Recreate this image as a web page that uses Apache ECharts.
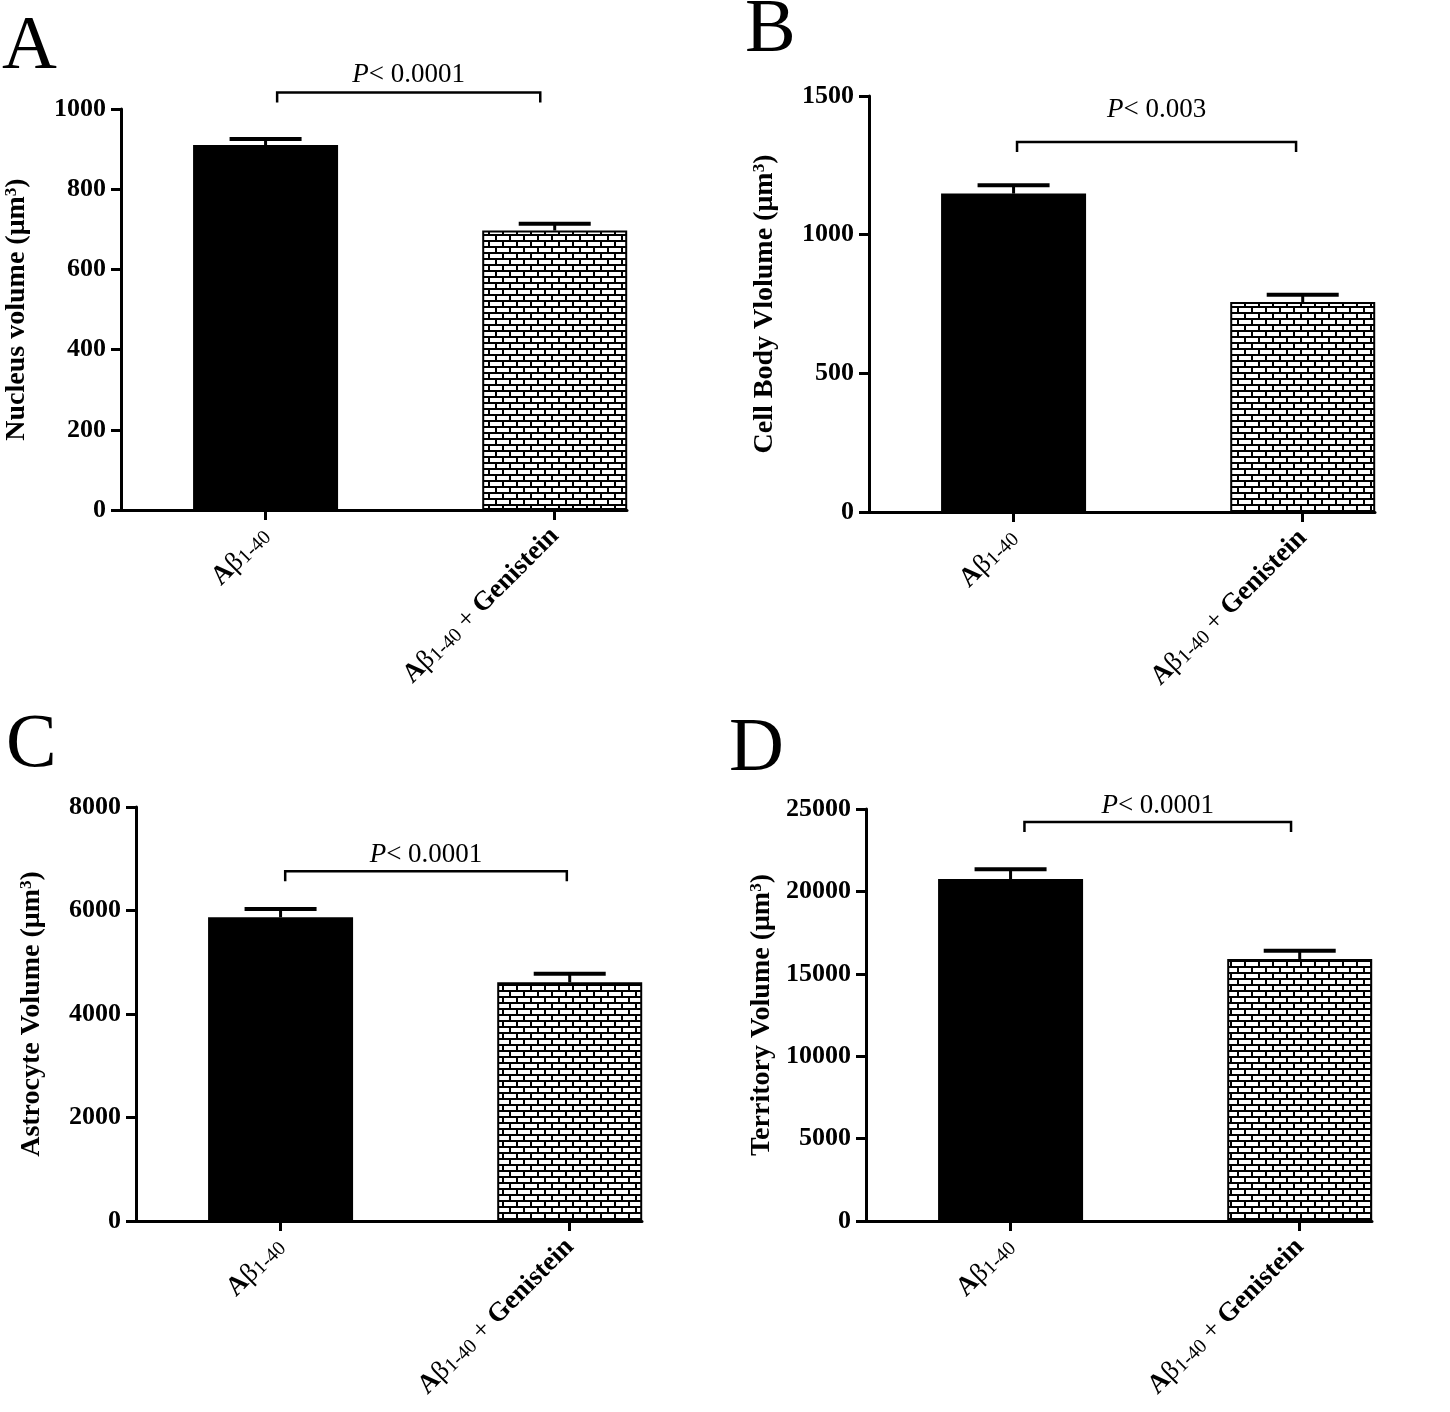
<!DOCTYPE html>
<html>
<head>
<meta charset="utf-8">
<script src="https://cdn.jsdelivr.net/npm/echarts@6/dist/echarts.min.js"></script>
<style>
  html, body { margin: 0; padding: 0; background: #fff; }
  #chart { width: 1450px; height: 1412px; }
</style>
</head>
<body>
<div id="chart"></div>
<script>
// groups on the x axis (bar positions 0 and 1)
const groupPos = [0, 1]
const groupLabels = ['{b|A}{n|β}{s|1-40}', '{b|A}{n|β}{s|1-40}{n| + }{b|Genistein}']

// means and SEM
const nucleusMean = [910, 697]
const nucleusSem = [15, 17]
const cellBodyMean = [1148, 757]
const cellBodySem = [30, 26]
const astrocyteMean = [5869, 4612]
const astrocyteSem = [160, 167]
const territoryMean = [20750, 15900]
const territorySem = [590, 500]

// y axis ranges
const yMax = [1000, 1500, 8000, 25000]
const yStep = [200, 500, 2000, 5000]

// significance brackets: x from/to (group units), bracket top value, text value
const pTexts = ['< 0.0001', '< 0.003', '< 0.0001', '< 0.0001']
const bracketFrom = [0.04, 0.012, 0.016, 0.048]
const bracketTo = [0.95, 0.977, 0.99, 0.97]
const bracketTop = [1041, 1334, 6757, 24211]
const bracketText = [1085, 1450, 7072, 25182]

const yTitles = [
  'Nucleus volume (μm{sup|3})',
  'Cell Body Vlolume (μm{sup|3})',
  'Astrocyte Volume (μm{sup|3})',
  'Territory Volume (μm{sup|3})'
]
const panelLetters = ['A', 'B', 'C', 'D']

const means = [nucleusMean, cellBodyMean, astrocyteMean, territoryMean]
const sems = [nucleusSem, cellBodySem, astrocyteSem, territorySem]

// pixel layout of each panel
const layout = [
  { left: 121, top: 109, width: 506, height: 401 },
  { left: 869, top: 96, width: 506, height: 416 },
  { left: 136, top: 807, width: 506, height: 414 },
  { left: 866, top: 809, width: 506, height: 412 }
]
const letterPos = [[2, 48], [745, 31], [6, 746], [729, 750]]

const FONT = '"Liberation Serif", "Times New Roman", serif'

// brick pattern for the second bar
function makeBrick() {
  const c = document.createElement('canvas')
  c.width = 14
  c.height = 12
  const ctx = c.getContext('2d')
  ctx.fillStyle = '#000'
  ctx.fillRect(0, 0, 14, 12)
  ctx.fillStyle = '#fff'
  ctx.fillRect(0, 2, 12, 4)
  ctx.fillRect(0, 8, 5, 4)
  ctx.fillRect(7, 8, 7, 4)
  return c
}
const brick = { image: makeBrick(), repeat: 'repeat' }

const grid = [], xAxis = [], yAxis = [], series = []

layout.forEach((g, i) => {
  grid.push({ left: g.left, top: g.top, width: g.width, height: g.height, containLabel: false })

  xAxis.push({
    type: 'value',
    gridIndex: i,
    min: -0.5,
    max: 1.25,
    splitLine: { show: false },
    axisLine: { show: true, onZero: false, lineStyle: { color: '#000', width: 3 } },
    axisTick: { show: true, customValues: groupPos, length: 10, lineStyle: { color: '#000', width: 3 } },
    axisLabel: {
      show: true,
      customValues: groupPos,
      rotate: 45,
      margin: 22,
      formatter: v => groupLabels[groupPos.indexOf(v)] || '',
      rich: {
        b: { fontFamily: FONT, fontSize: 27, fontWeight: 'bold', color: '#000' },
        n: { fontFamily: FONT, fontSize: 27, color: '#000' },
        s: { fontFamily: FONT, fontSize: 20, color: '#000', verticalAlign: 'bottom' }
      }
    }
  })

  yAxis.push({
    type: 'value',
    gridIndex: i,
    min: 0,
    max: yMax[i],
    interval: yStep[i],
    name: yTitles[i],
    nameLocation: 'middle',
    nameRotate: 90,
    nameGap: 90,
    nameTextStyle: {
      fontFamily: FONT, fontSize: 28, fontWeight: 'bold', color: '#000',
      rich: { sup: { fontFamily: FONT, fontSize: 17, fontWeight: 'bold', color: '#000', verticalAlign: 'top' } }
    },
    splitLine: { show: false },
    axisLine: { show: true, onZero: false, lineStyle: { color: '#000', width: 3 } },
    axisTick: { show: true, length: 10, lineStyle: { color: '#000', width: 3 } },
    axisLabel: {
      fontFamily: FONT, fontSize: 26, fontWeight: 'bold', color: '#000', margin: 15,
      formatter: v => String(v)
    }
  })

  series.push({
    type: 'bar',
    xAxisIndex: i,
    yAxisIndex: i,
    barWidth: 145,
    silent: true,
    data: groupPos.map((x, k) => ({
      value: [x, means[i][k]],
      itemStyle: k === 0
        ? { color: '#000' }
        : { color: brick, borderColor: '#000', borderWidth: 2 }
    }))
  })

  // error bars (mean + SEM)
  series.push({
    type: 'custom',
    xAxisIndex: i,
    yAxisIndex: i,
    silent: true,
    z: 5,
    encode: { x: 0, y: [1, 2] },
    data: groupPos.map((x, k) => [x, means[i][k], means[i][k] + sems[i][k]]),
    renderItem: (params, api) => {
      const p0 = api.coord([api.value(0), api.value(1)])
      const p1 = api.coord([api.value(0), api.value(2)])
      const half = 36
      return {
        type: 'group',
        children: [
          { type: 'line', shape: { x1: p0[0], y1: p0[1], x2: p1[0], y2: p1[1] }, style: { stroke: '#000', lineWidth: 3 } },
          { type: 'line', shape: { x1: p1[0] - half, y1: p1[1], x2: p1[0] + half, y2: p1[1] }, style: { stroke: '#000', lineWidth: 4 } }
        ]
      }
    }
  })

  // significance bracket with P value
  series.push({
    type: 'custom',
    xAxisIndex: i,
    yAxisIndex: i,
    silent: true,
    z: 5,
    encode: { x: [0, 1], y: [2, 3] },
    data: [[bracketFrom[i], bracketTo[i], bracketTop[i], bracketText[i]]],
    renderItem: (params, api) => {
      const a = api.coord([api.value(0), api.value(2)])
      const b = api.coord([api.value(1), api.value(2)])
      const t = api.coord([(api.value(0) + api.value(1)) / 2, api.value(3)])
      const drop = 10
      return {
        type: 'group',
        children: [
          {
            type: 'polyline',
            shape: { points: [[a[0], a[1] + drop], [a[0], a[1]], [b[0], b[1]], [b[0], b[1] + drop]] },
            style: { stroke: '#000', lineWidth: 2.5, fill: null }
          },
          {
            type: 'text',
            x: t[0],
            y: t[1],
            style: {
              text: '{i|P}{n|' + pTexts[i] + '}',
              align: 'center',
              verticalAlign: 'middle',
              rich: {
                i: { fontFamily: FONT, fontSize: 27, fontStyle: 'italic', fill: '#000' },
                n: { fontFamily: FONT, fontSize: 27, fill: '#000' }
              }
            }
          }
        ]
      }
    }
  })
})

const graphic = panelLetters.map((l, i) => ({
  type: 'text',
  x: letterPos[i][0],
  y: letterPos[i][1],
  style: { text: l, fontFamily: FONT, fontSize: 76, fill: '#000', verticalAlign: 'middle' }
}))

const chart = echarts.init(document.getElementById('chart'), null, { renderer: 'canvas' })
chart.setOption({
  animation: false,
  backgroundColor: '#fff',
  textStyle: { fontFamily: FONT },
  grid,
  xAxis,
  yAxis,
  series,
  graphic
})
</script>
</body>
</html>
